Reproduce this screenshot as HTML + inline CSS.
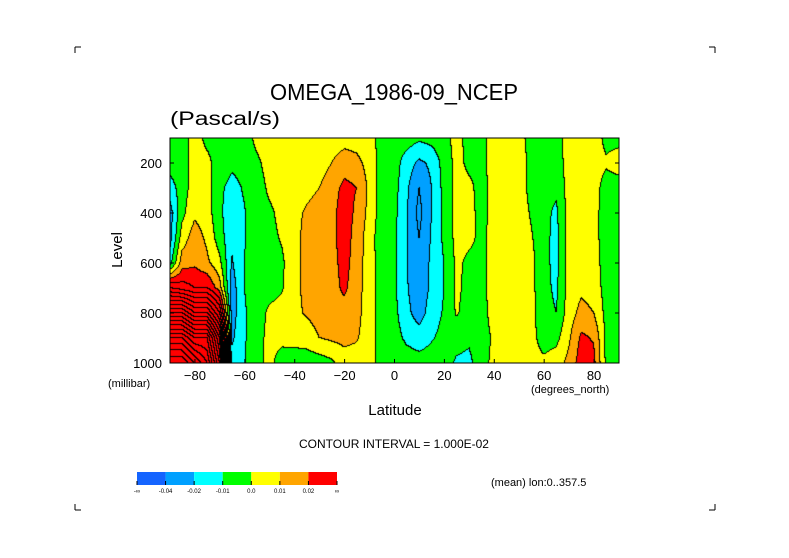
<!DOCTYPE html>
<html><head><meta charset="utf-8"><style>
html,body{margin:0;padding:0;background:#fff;}
#wrap{position:relative;width:789px;height:558px;overflow:hidden;}
svg text{font-family:"Liberation Sans",sans-serif;fill:#000;}
#cv{position:absolute;left:170px;top:138px;}
</style></head><body>
<div id="wrap">
<canvas id="cv" width="449" height="225"></canvas>
<svg id="sv" width="789" height="558" style="position:absolute;left:0;top:0">
<g stroke="#000" stroke-width="1" fill="none">
<path d="M75 47h6M75 47v6M715 47h-6M715 47v6M75 510h6M75 510v-6M715 510h-6M715 510v-6"/>
</g>
<text x="270" y="100" font-size="23" textLength="248" lengthAdjust="spacingAndGlyphs">OMEGA_1986-09_NCEP</text>
<text x="170" y="125" font-size="19" textLength="110" lengthAdjust="spacingAndGlyphs">(Pascal/s)</text>
<text x="0" y="0" font-size="15" transform="translate(122,250) rotate(-90)" text-anchor="middle">Level</text>
<text x="395" y="415" font-size="15" text-anchor="middle">Latitude</text>
<text x="108" y="387" font-size="11">(millibar)</text>
<text x="531" y="393" font-size="11">(degrees_north)</text>
<text x="394" y="448" font-size="12" text-anchor="middle">CONTOUR INTERVAL = 1.000E-02</text>
<text x="491" y="486" font-size="11">(mean) lon:0..357.5</text>
<g id="axes"></g>
<g id="cbar"></g>
</svg>
</div>
<script>
const lats=[-90,-85,-80,-75,-70,-65,-60,-55,-50,-45,-40,-35,-30,-25,-20,-15,-10,-5,0,5,10,15,20,25,30,35,40,45,50,55,60,65,70,75,80,85,90];
const levels=[100,200,300,400,500,600,700,800,900,1000];
// values in units of 0.01 Pa/s, one array per latitude (top to bottom levels)
const omega=[
[-0.5,-0.5,-1.5,-2.5,-2.5,-1.5,4,10,16,20],
[-0.5,-0.5,-0.5,-0.3,0.5,1.5,3.5,10,16,20],
[0.5,0.5,0.5,0.8,1.5,1.8,3,8,14,18],
[-0.3,0.3,0.5,0.5,0.8,1.2,3,8,14,16],
[-0.5,-0.5,-0.8,-0.8,-0.5,0.3,1.5,5,9,11],
[-0.5,-0.8,-1.3,-1.6,-1.8,-2.1,-2.5,-2.5,-2.2,-1.5],
[-0.5,-0.7,-0.9,-1.05,-1.05,-1,-1,-1.1,-1.1,-1.05],
[0.3,-0.2,-0.5,-0.5,-0.5,-0.5,-0.5,-0.5,-0.4,-0.3],
[0.5,0.4,0.2,-0.2,-0.3,-0.4,-0.4,0.2,0.3,0.3],
[0.5,0.5,0.5,0.3,0.1,-0.2,-0.1,0.4,0.3,-0.5],
[0.5,0.6,0.7,0.8,0.8,0.8,0.8,0.8,0.4,-0.6],
[0.3,0.5,0.8,1.1,1.2,1.2,1.2,1.1,0.5,-0.6],
[0.3,0.6,1.0,1.3,1.4,1.5,1.5,1.4,1.0,-0.5],
[0.5,1.0,1.5,1.7,1.7,1.6,1.6,1.5,1.2,-0.2],
[0.6,1.5,2.3,2.5,2.5,2.4,2.2,1.6,1.3,0.5],
[0.5,1.3,2.0,1.8,1.6,1.5,1.4,1.3,1.1,0.5],
[0.3,0.6,0.8,0.7,0.5,0.5,0.5,0.5,0.5,0.3],
[-0.3,-0.4,-0.5,-0.5,-0.6,-0.5,-0.5,-0.5,-0.4,-0.3],
[-0.5,-0.5,-0.6,-0.7,-0.8,-0.8,-0.8,-0.7,-0.6,-0.5],
[-0.5,-1.5,-1.8,-1.9,-1.9,-1.9,-1.9,-1.7,-1.2,-0.5],
[-0.8,-2.2,-3,-3.3,-3,-2.8,-2.7,-2.5,-1.5,-0.6],
[-0.6,-1.8,-2.0,-2.0,-1.9,-1.8,-1.8,-1.5,-1.1,-0.5],
[-0.3,-0.6,-0.7,-0.8,-0.8,-1.0,-1.0,-0.9,-0.7,-0.3],
[0.3,0.3,0.3,0.3,0.3,0.2,0.2,0.1,-0.5,-1.2],
[-0.3,-0.2,0.2,0.3,0.2,-0.2,-0.3,-0.4,-0.8,-1.3],
[-0.3,-0.2,-0.3,-0.3,-0.2,-0.2,-0.2,-0.3,-0.3,-0.3],
[0.4,0.3,0.3,0.3,0.3,0.3,0.3,0.3,0.1,0.2],
[0.5,0.5,0.5,0.5,0.5,0.5,0.5,0.5,0.5,0.5],
[0.3,0.5,0.5,0.5,0.5,0.5,0.5,0.5,0.5,0.5],
[-0.3,-0.3,-0.3,-0.1,0.1,0.3,0.3,0.3,0.3,0.3],
[-0.3,-0.5,-0.6,-0.7,-0.7,-0.7,-0.7,-0.6,-0.4,0.2],
[-0.3,-0.5,-0.8,-1.2,-1.3,-1.3,-1.2,-1.0,-0.3,0.5],
[0.3,0.4,0.4,0.4,0.4,0.4,0.4,0.5,0.8,1.3],
[0.5,0.5,0.5,0.5,0.5,0.6,0.8,1.3,2.2,2.5],
[0.4,0.3,0.3,0.3,0.3,0.4,0.6,1.0,1.9,2.3],
[-0.2,0.1,-0.3,-0.4,-0.4,-0.4,-0.4,-0.3,-0.2,-0.2],
[-0.2,0.3,-0.3,-0.4,-0.4,-0.4,-0.4,-0.3,-0.3,-0.3]
];
const binEdges=[-4,-2,-1,0,1,2];
const binColors=["#1464ff","#00a0ff","#00ffff","#00ff00","#ffff00","#ffa500","#ff0000"];
const cbarLabels=["-\u221e","-0.04","-0.02","-0.01","0.0","0.01","0.02","\u221e"];
const xTicks=[-80,-60,-40,-20,0,20,40,60,80];
const yTicks=[200,400,600,800,1000];

const X0=170,X1=619,Y0=138,Y1=363;
const xs=lat=>X0+(lat+90)/180*(X1-X0);
const ys=p=>Y0+(p-100)/900*(Y1-Y0);
function val(lat,p){
  let fi=(lat-lats[0])/(lats[1]-lats[0]);fi=Math.max(0,Math.min(lats.length-1.0001,fi));
  let fj=(p-levels[0])/(levels[1]-levels[0]);fj=Math.max(0,Math.min(levels.length-1.0001,fj));
  const i=Math.floor(fi),j=Math.floor(fj),a=fi-i,b=fj-j;
  return omega[i][j]*(1-a)*(1-b)+omega[i+1][j]*a*(1-b)+omega[i][j+1]*(1-a)*b+omega[i+1][j+1]*a*b;
}
function bin(v){let k=0;while(k<binEdges.length&&v>=binEdges[k])k++;return k;}
function hex(c){return [1,3,5].map(i=>parseInt(c.substr(i,2),16));}
const cv=document.getElementById('cv');const ctx=cv.getContext('2d');
const W=cv.width,H=cv.height;const img=ctx.createImageData(W,H);
const V=[];
for(let y=0;y<H;y++){V.push([]);for(let x=0;x<W;x++){
  const lat=(x+0.5)/(X1-X0)*180-90, p=100+(y+0.5)/(Y1-Y0)*900;
  V[y].push(val(lat,p));}}
const lvl=v=>Math.floor(v);
for(let y=0;y<H;y++)for(let x=0;x<W;x++){
  const v=V[y][x];let c=hex(binColors[bin(v)]);
  const l=lvl(v);
  if((x+1<W&&lvl(V[y][x+1])!==l)||(y+1<H&&lvl(V[y+1][x])!==l))c=[0,0,0];
  const o=(y*W+x)*4;img.data[o]=c[0];img.data[o+1]=c[1];img.data[o+2]=c[2];img.data[o+3]=255;}
ctx.putImageData(img,0,0);

const NS="http://www.w3.org/2000/svg";
const ax=document.getElementById('axes');
function mk(tag,attrs,parent,txt){const e=document.createElementNS(NS,tag);for(const k in attrs)e.setAttribute(k,attrs[k]);if(txt!==undefined)e.textContent=txt;parent.appendChild(e);return e;}
const fr=mk('rect',{x:X0,y:Y0,width:X1-X0,height:Y1-Y0,fill:'none',stroke:'#000','stroke-width':1},ax);


xTicks.forEach(t=>{
  const l=mk('line',{x1:xs(t),x2:xs(t),y1:Y1,y2:Y1-4,stroke:'#000'},ax);
  
  
  const tx=mk('text',{x:xs(t),y:Y1+17,'font-size':13,'text-anchor':'middle'},ax,(t<0?'\u2212':'')+Math.abs(t));
  
  
});
yTicks.forEach(t=>{
  const l=mk('line',{x1:X0,x2:X0+4,y1:ys(t),y2:ys(t),stroke:'#000'},ax);
  
  
  const r=mk('line',{x1:X1,x2:X1-4,y1:ys(t),y2:ys(t),stroke:'#000'},ax);
  
  
  const tx=mk('text',{x:X0-8,y:ys(t)+5,'font-size':13,'text-anchor':'end'},ax,String(t));
  
  
});
const cb=document.getElementById('cbar');
const CX=137,CW=200/binColors.length,CY=472,CH=13;
binColors.forEach((c,i)=>{
  const r=mk('rect',{x:CX+i*CW,y:CY,width:CW,height:CH,fill:c},cb);
  
  
});
cbarLabels.forEach((s,i)=>{
  const l=mk('line',{x1:CX+i*CW,x2:CX+i*CW,y1:CY+CH-4,y2:CY+CH,stroke:'#000'},cb);
  
  
  const t=mk('text',{x:CX+i*CW,y:CY+CH+8,'font-size':6,'text-anchor':'middle'},cb,s);
  
  
});
</script>
</body></html>
